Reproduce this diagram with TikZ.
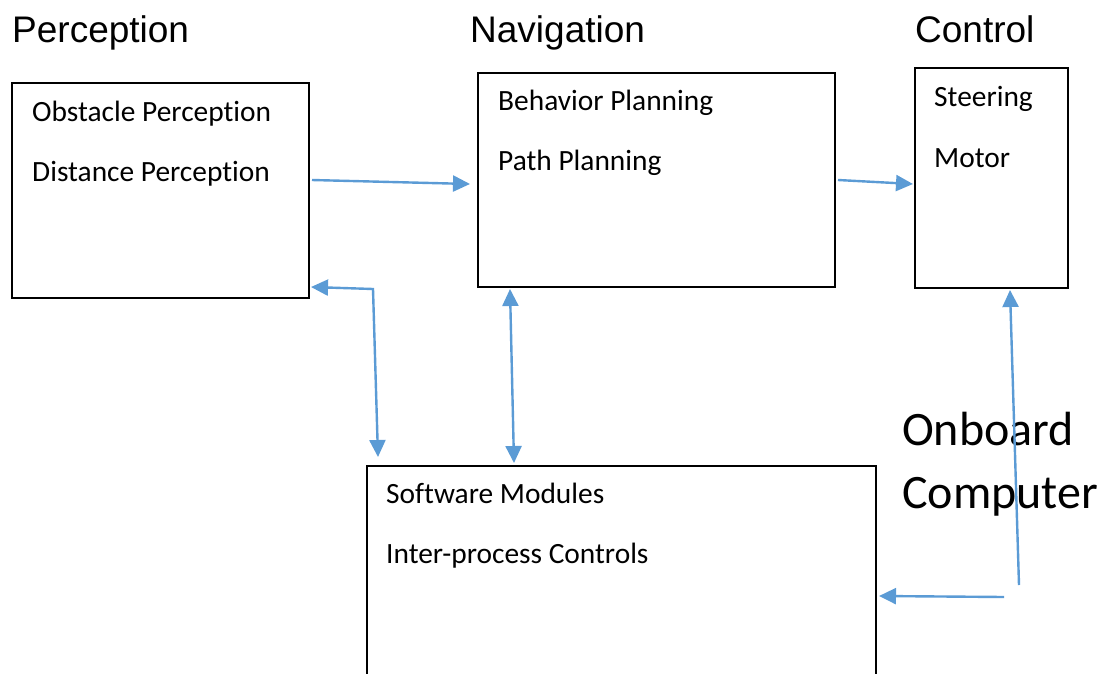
\documentclass[tikz,border=0pt]{standalone}
\usepackage{fontspec}
\setmainfont{Carlito}[RawFeature=-liga]
\newfontfamily\headfont{Liberation Sans}
\usetikzlibrary{arrows.meta}
\definecolor{linkblue}{RGB}{91,155,213}

\begin{document}
\begin{tikzpicture}[x=1pt,y=-1pt,
    box/.style={draw=black,line width=1.6pt,inner sep=0pt,anchor=north west},
    item/.style={anchor=base west,inner sep=0pt,font=\fontsize{29.4}{33}\selectfont},
    head/.style={anchor=base west,inner sep=0pt,font=\headfont\fontsize{37}{42}\selectfont},
    link/.style={draw=linkblue,line width=2.4pt,-{Triangle[length=17pt,width=16pt]}},
    both/.style={link,{Triangle[length=17pt,width=16pt]}-{Triangle[length=17pt,width=16pt]}}]
    \useasboundingbox (0,0) rectangle (1101,673);
    \clip (0,0) rectangle (1101,673);

    % group titles
    \node[head] (perchead) at (12,42) {Perception};
    \node[head] (navhead) at (470,42) {Navigation};
    \node[head] (ctrlhead) at (915,42) {Control};
    \node[anchor=base west,inner sep=0pt,font=\fontsize{48}{52}\selectfont] (onboard) at (902,445) {Onboard};
    \node[anchor=base west,inner sep=0pt,font=\fontsize{48}{52}\selectfont] (computer) at (902,508) {Computer};

    % blocks
    \node[box,minimum width=297pt,minimum height=215pt] (percbox) at (11,82) {};
    \node[box,minimum width=357pt,minimum height=214pt] (navbox) at (477,72) {};
    \node[box,minimum width=153pt,minimum height=220pt] (ctrlbox) at (914,67) {};
    \node[box,minimum width=509pt,minimum height=260pt] (softbox) at (366,465) {};

    \node[item] (obstacle) at (32,121) {Obstacle Perception};
    \node[item] (distance) at (32,181) {Distance Perception};
    \node[item] (behavior) at (498,110) {Behavior Planning};
    \node[item] (path) at (498,170) {Path Planning};
    \node[item] (steering) at (934,106) {Steering};
    \node[item] (motor) at (934,167) {Motor};
    \node[item] (modules) at (386,503) {Software Modules};
    \node[item] (interproc) at (386,563) {Inter-process Controls};

    % connector ends
    \coordinate (percout) at (312,180);
    \coordinate (navin) at (470,184);
    \coordinate (navout) at (838,180);
    \coordinate (ctrlin) at (913,184);
    \coordinate (percback) at (311,287);
    \coordinate (bend) at (373,289);
    \coordinate (softleft) at (378,457);
    \coordinate (navlow) at (510,289);
    \coordinate (softmid) at (514,463);
    \coordinate (ctrllow) at (1010,290);
    \coordinate (onbase) at (1019,585);
    \coordinate (onleft) at (1004,597);
    \coordinate (softright) at (879,596);

    \draw[link] (percout) -- (navin);
    \draw[link] (navout) -- (ctrlin);
    \draw[both] (percback) -- (bend) -- (softleft);
    \draw[both] (navlow) -- (softmid);
    \draw[link] (onbase) -- (ctrllow);
    \draw[link] (onleft) -- (softright);
\end{tikzpicture}
\end{document}
